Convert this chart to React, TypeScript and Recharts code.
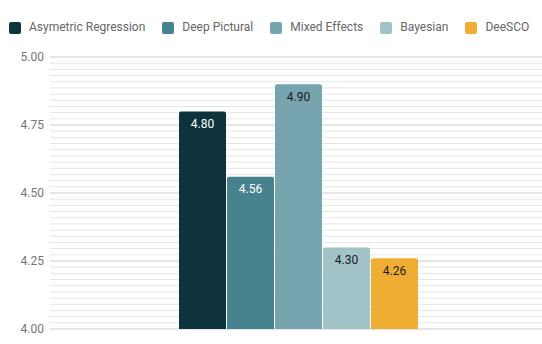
import React from 'react';
import { BarChart, Bar, XAxis, YAxis, CartesianGrid, LabelList } from 'recharts';

const categories = ['Score'];
const seriesNames = ['Asymetric Regression', 'Deep Pictural', 'Mixed Effects', 'Bayesian', 'DeeSCO'];
const seriesValues = [4.8, 4.56, 4.9, 4.3, 4.26];
const seriesColors = ['#0e333d', '#47828f', '#76a5af', '#a2c4c9', '#f0ad33'];
const labelColors = ['#ffffff', '#ffffff', '#1a1a1a', '#1a1a1a', '#1a1a1a'];
const yTicks = [4, 4.25, 4.5, 4.75, 5];
const minorPerMajor = 11;

const data = categories.map((c) => {
  const row: Record<string, any> = { category: c };
  seriesNames.forEach((n, i) => (row['s' + i] = seriesValues[i]));
  return row;
});

const gridValues: number[] = [];
for (let i = 0; i < yTicks.length - 1; i++) {
  for (let k = 0; k < minorPerMajor; k++) {
    gridValues.push(yTicks[i] + ((yTicks[i + 1] - yTicks[i]) * k) / minorPerMajor);
  }
}
gridValues.push(yTicks[yTicks.length - 1]);

const font = 'Roboto, Arial, sans-serif';

const gridLine = (props: any) => {
  const major = props.index % minorPerMajor === 0;
  return (
    <line
      key={'g' + props.index}
      x1={props.x1}
      x2={props.x2}
      y1={props.y1}
      y2={props.y2}
      stroke={major ? '#cccccc' : '#e6e6e6'}
      strokeWidth={1}
      fill="none"
    />
  );
};

export default function App() {
  return (
    <div style={{ position: 'fixed', left: 0, top: 0, width: 542, height: 344, background: '#fff', fontFamily: font }}>
      <div style={{ position: 'absolute', left: 9, top: 21, display: 'flex', alignItems: 'center', height: 13 }}>
        {seriesNames.map((n, i) => (
          <div key={n} style={{ display: 'flex', alignItems: 'center', marginRight: 17 }}>
            <div style={{ width: 12, height: 12, borderRadius: 2, background: seriesColors[i], marginRight: 8 }} />
            <span style={{ fontSize: 12, color: '#666', lineHeight: '13px', whiteSpace: 'nowrap' }}>{n}</span>
          </div>
        ))}
      </div>
      <BarChart
        width={542}
        height={344}
        data={data}
        margin={{ top: 57, right: 0, bottom: 15, left: 0 }}
        barSize={47}
        barGap={1}
      >
        <CartesianGrid
          vertical={false}
          yAxisId="grid"
          horizontalValues={gridValues}
          horizontal={gridLine}
          stroke="#e6e6e6"
        />
        <XAxis dataKey="category" hide padding={{ left: 5, right: 0 }} />
        <YAxis yAxisId="grid" hide domain={[4, 5]} ticks={gridValues} interval={0} allowDataOverflow />
        <YAxis
          domain={[4, 5]}
          ticks={yTicks}
          width={50}
          axisLine={false}
          tickLine={false}
          tickSize={4}
          tickMargin={2}
          tickFormatter={(v: number) => v.toFixed(2)}
          tick={{ fill: '#757575', fontSize: 12, fontFamily: font }}
          allowDataOverflow
        />
        {seriesNames.map((n, i) => (
          <Bar key={n} dataKey={'s' + i} name={n} fill={seriesColors[i]} radius={[2, 2, 0, 0]} isAnimationActive={false}>
            <LabelList
              dataKey={'s' + i}
              position="insideTop"
              offset={8}
              formatter={(v: any) => Number(v).toFixed(2)}
              style={{ fill: labelColors[i], fontSize: 12, fontFamily: font }}
            />
          </Bar>
        ))}
      </BarChart>
    </div>
  );
}
